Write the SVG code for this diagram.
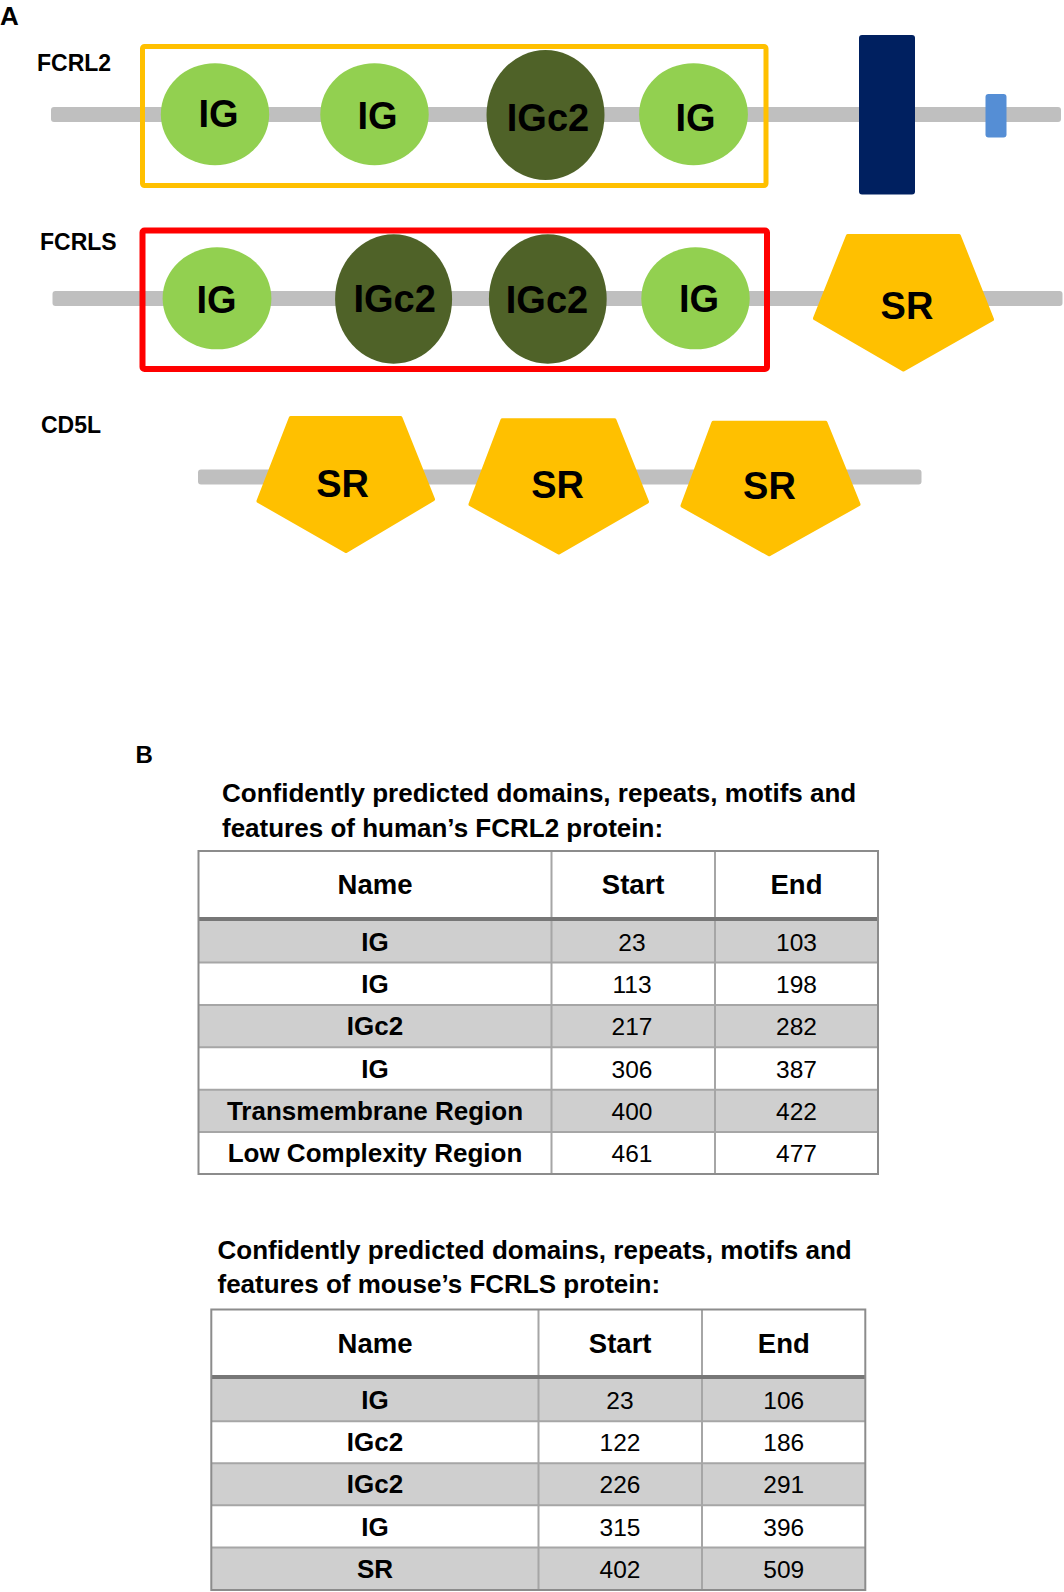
<svg xmlns="http://www.w3.org/2000/svg" width="1064" height="1592" viewBox="0 0 1064 1592">
<style>
.lbl{font-family:"Liberation Sans",Arial,sans-serif;font-weight:bold;fill:#000}
.dom{font-family:"Liberation Sans",Arial,sans-serif;font-weight:bold;font-size:38px;fill:#000;text-anchor:middle}
.bb{fill:#BFBFBF}
.ig{fill:#92D050}
.igc2{fill:#4F6228}
.sr{fill:#FFC000;stroke:#FFC000;stroke-width:4;stroke-linejoin:round}
.ttl{font-family:"Liberation Sans",Arial,sans-serif;font-weight:bold;font-size:26px;fill:#000}
.th{font-family:"Liberation Sans",Arial,sans-serif;font-weight:bold;font-size:27.5px;fill:#000;text-anchor:middle}
.tn{font-family:"Liberation Sans",Arial,sans-serif;font-weight:bold;font-size:26px;fill:#000;text-anchor:middle}
.tv{font-family:"Liberation Sans",Arial,sans-serif;font-size:24.5px;fill:#000;text-anchor:middle}
.gr{fill:#CFCFCF}
.in{stroke:#A6A6A6;stroke-width:2;fill:none}
.hb{stroke:#777777;stroke-width:4;fill:none}
.ob{stroke:#8C8C8C;stroke-width:2;fill:none}
</style>

<text class="lbl" x="0" y="25" font-size="26">A</text>
<text class="lbl" x="37" y="70.5" font-size="23">FCRL2</text>
<text class="lbl" x="40" y="250" font-size="23">FCRLS</text>
<text class="lbl" x="41" y="432.5" font-size="23">CD5L</text>

<g id="connectors">
  <rect class="bb" x="51" y="107" width="1010" height="15" rx="3"/>
  <rect class="bb" x="52.5" y="291" width="1010" height="15" rx="3"/>
  <rect class="bb" x="198" y="469.5" width="723.5" height="15" rx="3"/>
</g>

<g id="fcrl2-box"><rect x="142.5" y="46.5" width="623.5" height="139" rx="2" fill="none" stroke="#FFC000" stroke-width="5"/></g>
<g id="fcrl2-ig1"><ellipse class="ig" cx="215" cy="114.2" rx="54.2" ry="51"/><text class="dom" x="218.5" y="127">IG</text></g>
<g id="fcrl2-ig2"><ellipse class="ig" cx="374.5" cy="114.2" rx="54.2" ry="51"/><text class="dom" x="377.5" y="128.5">IG</text></g>
<g id="fcrl2-igc2"><ellipse class="igc2" cx="545.5" cy="115" rx="59" ry="65"/><text class="dom" x="548" y="131">IGc2</text></g>
<g id="fcrl2-ig3"><ellipse class="ig" cx="693.5" cy="114.2" rx="54.4" ry="51"/><text class="dom" x="695.5" y="130.5">IG</text></g>
<g id="fcrl2-tm"><rect x="859" y="35" width="56" height="159.5" rx="3" fill="#002060"/></g>
<g id="fcrl2-lcr"><rect x="985.5" y="94" width="21" height="43.5" rx="3" fill="#558ED5"/></g>

<g id="fcrls-box"><rect x="142.5" y="230.5" width="624.5" height="138.5" rx="2" fill="none" stroke="#FF0000" stroke-width="6"/></g>
<g id="fcrls-ig1"><ellipse class="ig" cx="217" cy="298.3" rx="54.4" ry="51"/><text class="dom" x="216.6" y="313">IG</text></g>
<g id="fcrls-igc2a"><ellipse class="igc2" cx="393.6" cy="299" rx="58.5" ry="64.8"/><text class="dom" x="394.6" y="311.7">IGc2</text></g>
<g id="fcrls-igc2b"><ellipse class="igc2" cx="547.8" cy="299" rx="58.9" ry="64.8"/><text class="dom" x="547" y="313">IGc2</text></g>
<g id="fcrls-ig2"><ellipse class="ig" cx="695.5" cy="298.3" rx="54.2" ry="51"/><text class="dom" x="699" y="312.3">IG</text></g>
<g id="fcrls-sr"><polygon class="sr" points="847.9,236 958.9,236 992,319.3 903.4,369.5 815,318.3"/><text class="dom" x="907" y="319.3">SR</text></g>

<g id="cd5l-sr1"><polygon class="sr" points="290.8,418 400.5,418 433,499.3 346,551 258.5,501"/><text class="dom" x="342.6" y="496.7">SR</text></g>
<g id="cd5l-sr2"><polygon class="sr" points="502.4,420.3 614.5,420.3 647,501.7 558.8,552.5 470.5,504.3"/><text class="dom" x="557.6" y="498.3">SR</text></g>
<g id="cd5l-sr3"><polygon class="sr" points="713.4,422.7 825.5,422.7 858.5,504.3 769.2,554.3 682.5,505.7"/><text class="dom" x="769.5" y="499">SR</text></g>

<text class="lbl" x="135.5" y="763" font-size="24">B</text>

<g id="table1">
  <text class="ttl" x="222" y="801.7">Confidently predicted domains, repeats, motifs and</text>
  <text class="ttl" x="222" y="836.7">features of human’s FCRL2 protein:</text>
  <rect class="gr" x="198.5" y="921" width="679.5" height="41.5"/>
  <rect class="gr" x="198.5" y="1005" width="679.5" height="42.3"/>
  <rect class="gr" x="198.5" y="1089.7" width="679.5" height="42.3"/>
  <path class="in" d="M198.5 962.5H878M198.5 1005H878M198.5 1047.3H878M198.5 1089.7H878M198.5 1132H878M551.5 851V1174M715 851V1174"/>
  <path class="hb" d="M198.5 919H878"/>
  <rect class="ob" x="198.5" y="851" width="679.5" height="323"/>
  <text class="th" x="375" y="894.3">Name</text>
  <text class="th" x="633.2" y="894.3">Start</text>
  <text class="th" x="796.5" y="894.3">End</text>
  <text class="tn" x="375" y="951">IG</text><text class="tv" x="632" y="951">23</text><text class="tv" x="796.5" y="951">103</text>
  <text class="tn" x="375" y="993">IG</text><text class="tv" x="632" y="993">113</text><text class="tv" x="796.5" y="993">198</text>
  <text class="tn" x="375" y="1035.3">IGc2</text><text class="tv" x="632" y="1035.3">217</text><text class="tv" x="796.5" y="1035.3">282</text>
  <text class="tn" x="375" y="1077.6">IG</text><text class="tv" x="632" y="1077.6">306</text><text class="tv" x="796.5" y="1077.6">387</text>
  <text class="tn" x="375" y="1120">Transmembrane Region</text><text class="tv" x="632" y="1120">400</text><text class="tv" x="796.5" y="1120">422</text>
  <text class="tn" x="375" y="1162.3">Low Complexity Region</text><text class="tv" x="632" y="1162.3">461</text><text class="tv" x="796.5" y="1162.3">477</text>
</g>

<g id="table2">
  <text class="ttl" x="217.5" y="1259.3">Confidently predicted domains, repeats, motifs and</text>
  <text class="ttl" x="217.5" y="1293.3">features of mouse’s FCRLS protein:</text>
  <rect class="gr" x="211.3" y="1379" width="654" height="42.2"/>
  <rect class="gr" x="211.3" y="1463.2" width="654" height="42.1"/>
  <rect class="gr" x="211.3" y="1547.5" width="654" height="42.5"/>
  <path class="in" d="M211.3 1421.2H865.3M211.3 1463.2H865.3M211.3 1505.3H865.3M211.3 1547.5H865.3M538.5 1309.5V1590M702 1309.5V1590"/>
  <path class="hb" d="M211.3 1377H865.3"/>
  <rect class="ob" x="211.3" y="1309.5" width="654" height="280.5"/>
  <text class="th" x="375" y="1353.3">Name</text>
  <text class="th" x="620.2" y="1353.3">Start</text>
  <text class="th" x="783.8" y="1353.3">End</text>
  <text class="tn" x="375" y="1409">IG</text><text class="tv" x="620" y="1409">23</text><text class="tv" x="783.8" y="1409">106</text>
  <text class="tn" x="375" y="1451.2">IGc2</text><text class="tv" x="620" y="1451.2">122</text><text class="tv" x="783.8" y="1451.2">186</text>
  <text class="tn" x="375" y="1493.3">IGc2</text><text class="tv" x="620" y="1493.3">226</text><text class="tv" x="783.8" y="1493.3">291</text>
  <text class="tn" x="375" y="1535.5">IG</text><text class="tv" x="620" y="1535.5">315</text><text class="tv" x="783.8" y="1535.5">396</text>
  <text class="tn" x="375" y="1577.7">SR</text><text class="tv" x="620" y="1577.7">402</text><text class="tv" x="783.8" y="1577.7">509</text>
</g>
</svg>
